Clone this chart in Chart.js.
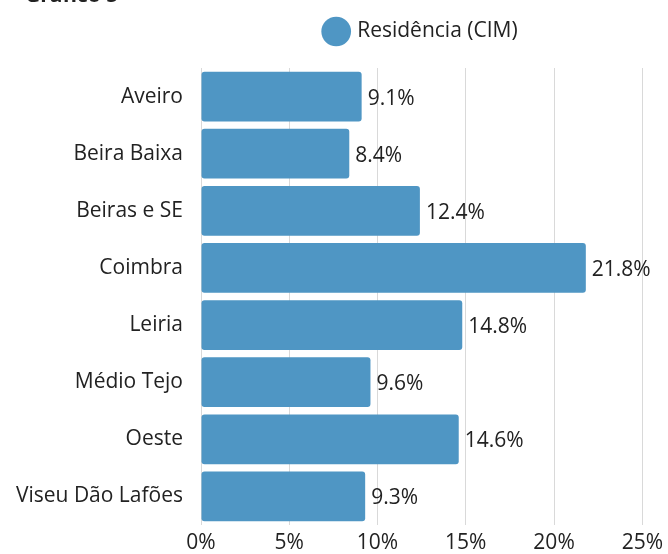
<!DOCTYPE html>
<html>
<head>
<meta charset="utf-8">
<script src="https://cdn.jsdelivr.net/npm/chart.js@4/dist/chart.umd.min.js"></script>
<style>
  html, body { margin: 0; padding: 0; background: #fff; overflow: hidden; }
  #wrap { position: relative; width: 668px; height: 554px; }
  #titre { position: absolute; left: 25px; top: -20px; font: bold 21px "Open Sans", sans-serif; color: #222; }
</style>
</head>
<body>
<div id="wrap">
  <div id="titre">Gráfico 5</div>
  <canvas id="grafico" width="668" height="554"></canvas>
</div>
<script>
// dados do gráfico
const regioes = ['Aveiro', 'Beira Baixa', 'Beiras e SE', 'Coimbra', 'Leiria', 'Médio Tejo', 'Oeste', 'Viseu Dão Lafões'];
const residencia = [9.1, 8.4, 12.4, 21.8, 14.8, 9.6, 14.6, 9.3];
const nomeSerie = 'Residência (CIM)';
const eixoMax = 25;

const fonte = '"Open Sans", sans-serif';
const tamanho = 21;

// rótulos no fim das barras
const rotulos = {
    id: 'rotulos',
    afterDatasetsDraw(chart) {
        const ctx = chart.ctx;
        const meta = chart.getDatasetMeta(0);
        ctx.save();
        ctx.font = tamanho + 'px ' + fonte;
        ctx.fillStyle = '#222';
        ctx.textAlign = 'left';
        ctx.textBaseline = 'middle';
        meta.data.forEach((bar, i) => {
            ctx.fillText(residencia[i].toFixed(1) + '%', bar.x + 6, bar.y + 2);
        });
        ctx.restore();
    }
};

// espaço extra sob a legenda e legenda centrada na área do gráfico
const legendaAjuste = {
    id: 'legendaAjuste',
    beforeInit(chart) {
        const fitOrig = chart.legend.fit;
        chart.legend.fit = function() {
            fitOrig.bind(chart.legend)();
            this.height += 16;
        };
    },
    afterLayout(chart) {
        chart.legend.left = chart.chartArea.left;
        chart.legend.right = chart.chartArea.right;
    }
};

new Chart(document.getElementById('grafico'), {
    type: 'bar',
    data: {
        labels: regioes,
        datasets: [{
            label: nomeSerie,
            data: residencia,
            backgroundColor: '#4f96c4',
            borderWidth: 0,
            borderRadius: 3,
            borderSkipped: false,
            categoryPercentage: 1,
            barPercentage: 0.87
        }]
    },
    options: {
        responsive: false,
        animation: false,
        indexAxis: 'y',
        layout: { padding: { top: 7, right: 20, left: 0, bottom: 0 } },
        plugins: {
            legend: {
                display: true,
                position: 'top',
                align: 'center',
                labels: {
                    usePointStyle: true,
                    pointStyle: 'circle',
                    boxWidth: 23,
                    boxHeight: 23,
                    padding: 14,
                    color: '#222',
                    font: { family: fonte, size: tamanho }
                }
            },
            tooltip: { enabled: false }
        },
        scales: {
            x: {
                min: 0,
                max: eixoMax,
                ticks: {
                    stepSize: 5,
                    color: '#222',
                    padding: 5,
                    font: { family: fonte, size: tamanho },
                    callback: v => v + '%'
                },
                grid: { color: '#d9d9d9', drawTicks: false },
                border: { display: false },
                afterFit(scale) { scale.height = 29; }
            },
            y: {
                ticks: {
                    color: '#222',
                    padding: 10,
                    font: { family: fonte, size: tamanho }
                },
                grid: { display: false },
                border: { display: false },
                afterFit(scale) { scale.width = 201; }
            }
        }
    },
    plugins: [rotulos, legendaAjuste]
});
</script>
</body>
</html>
